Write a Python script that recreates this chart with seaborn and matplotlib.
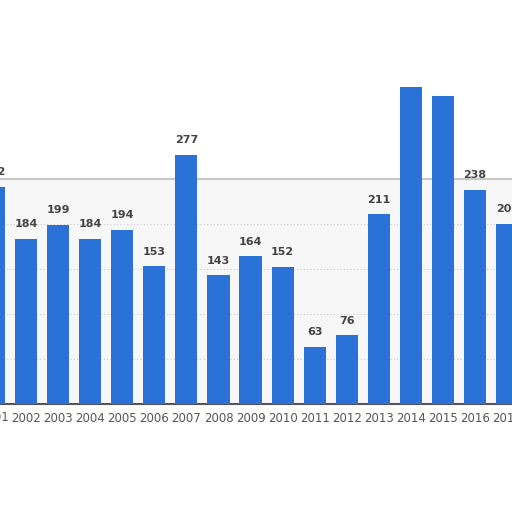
import matplotlib
matplotlib.use("Agg")
import matplotlib.pyplot as plt
import seaborn as sns
import pandas as pd

years = ["2001", "2002", "2003", "2004", "2005", "2006", "2007", "2008", "2009",
         "2010", "2011", "2012", "2013", "2014", "2015", "2016", "2017"]
values = [242, 184, 199, 184, 194, 153, 277, 143, 164, 152, 63, 76, 211, 353, 343, 238, 200]
labels = ["242", "184", "199", "184", "194", "153", "277", "143", "164", "152",
          "63", "76", "211", "", "", "238", "200"]

df = pd.DataFrame({"year": years, "value": values})

sns.set_theme(style="white")
plt.rcParams['font.family'] = ['DejaVu Sans']

fig = plt.figure(figsize=(5.12, 5.12), dpi=100)
ax = fig.add_axes([0, 1 - 403.5 / 512, 1, 403.5 / 512])

ax.set_facecolor("white")
ax.axhspan(0, 250, color="#f7f7f7", zorder=0)
ax.axhline(250, color="#c8c8c8", lw=1.5, zorder=1)

sns.barplot(data=df, x="year", y="value", color="#2a72d8", saturation=1,
            width=0.69, linewidth=0, ax=ax, zorder=3)

for g in range(50, 201, 50):
    ax.axhline(g, color="#cccccc", lw=0.8, ls=(0, (1, 2)), zorder=2)

for i, (v, lab) in enumerate(zip(values, labels)):
    if lab:
        ax.annotate(lab, (i, v), xytext=(0, 7), textcoords="offset points",
                    ha="center", va="bottom", fontsize=8, fontweight="bold",
                    color="#444444", zorder=5, annotation_clip=False)

ax.set_xlim(0.19, 16.15)
ax.set_ylim(0, 450)
ax.set_xlabel("")
ax.set_ylabel("")
ax.set_yticks([])
ax.tick_params(axis="x", length=0, pad=6, labelsize=8.5, labelcolor="#555555")

# first year's tick falls just outside the limits; draw its label so its edge shows
ax.annotate(years[0], (0, 0), xytext=(0, -10.3), textcoords="offset points",
            ha="center", va="center", fontsize=8.5, color="#555555",
            annotation_clip=False)

for s in ["top", "left", "right"]:
    ax.spines[s].set_visible(False)
ax.spines["bottom"].set_color("#555555")
ax.spines["bottom"].set_linewidth(1.5)

fig.savefig("out.png", dpi=100)
